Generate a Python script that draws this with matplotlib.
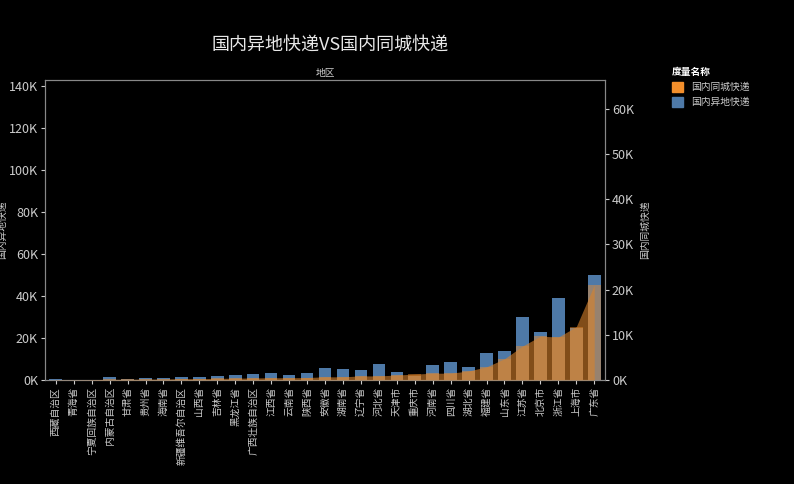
import matplotlib.pyplot as plt
import numpy as np
from matplotlib.ticker import FuncFormatter
from matplotlib.patches import Patch

plt.rcParams['font.family'] = ['Noto Sans CJK SC', 'DejaVu Sans']

regions = ["西藏自治区","青海省","宁夏回族自治区","内蒙古自治区","甘肃省","贵州省","海南省",
           "新疆维吾尔自治区","山西省","吉林省","黑龙江省","广西壮族自治区","江西省","云南省",
           "陕西省","安徽省","湖南省","辽宁省","河北省","天津市","重庆市","河南省","四川省",
           "湖北省","福建省","山东省","江苏省","北京市","浙江省","上海市","广东省"]
# 国内异地快递 (left axis)
yidi = [0.3,0.2,0.2,1.5,0.7,1.0,1.0,1.5,1.5,2.0,2.4,2.9,3.3,2.4,3.3,5.7,5.3,5.0,7.7,4.0,
        2.0,7.0,8.6,6.0,13.0,14.0,30.0,23.0,39.0,25.0,50.0]
# 国内同城快递 (right axis)
tongcheng = [0.05,0.05,0.08,0.15,0.15,0.2,0.2,0.3,0.3,0.35,0.4,0.45,0.5,0.5,0.55,0.7,0.7,
             0.9,0.9,1.1,1.3,1.5,1.5,2.0,2.9,4.7,7.5,9.7,9.5,11.8,21.0]

blue = "#4e79a7"
orange = "#f28e2b"
fg = "#cccccc"

fig = plt.figure(figsize=(7.94, 4.84), dpi=100, facecolor="black")
ax = fig.add_axes([45/794, 1-380/484, 560/794, 300/484], facecolor="black")
ax2 = ax.twinx()
x = np.arange(len(regions))

ax.bar(x, yidi, width=0.7, color=blue, zorder=1)
ax2.bar(x, tongcheng, width=0.7, color=orange, alpha=0.45, zorder=2)
ax2.fill_between(x, tongcheng, color="#d9822b", alpha=0.6, lw=0, zorder=3)

ax.set_xlim(-0.6, len(regions) - 0.4)
ax.set_ylim(0, 143)
ax2.set_ylim(0, 66.4)
ax.set_yticks(np.arange(0, 141, 20))
ax2.set_yticks(np.arange(0, 61, 10))
kfmt = FuncFormatter(lambda v, p: f"{int(v)}K")
ax.yaxis.set_major_formatter(kfmt)
ax2.yaxis.set_major_formatter(kfmt)

ax.set_xticks(x)
ax.set_xticklabels(regions, rotation=90, fontsize=7, color=fg)
for a in (ax, ax2):
    a.tick_params(colors=fg, labelsize=9, length=3, pad=2)
    for s in a.spines.values():
        s.set_color("#888888")
ax.tick_params(axis="x", labelsize=7)

ax.set_ylabel("国内异地快递", color=fg, fontsize=7, labelpad=1)
ax2.set_ylabel("国内同城快递", color=fg, fontsize=7, labelpad=4)
ax.set_title("地区", color=fg, fontsize=7, pad=3)
fig.text(330/794, 1-45/484, "国内异地快递VS国内同城快递", color="#e8e8e8", fontsize=13,
         ha="center", va="center")

handles = [Patch(color=orange, label="国内同城快递"), Patch(color=blue, label="国内异地快递")]
leg = fig.legend(handles=handles, loc="upper left", bbox_to_anchor=(663/794, 1-58/484),
                 frameon=False, fontsize=7, title="度量名称", handlelength=1.2,
                 handleheight=1.2, labelcolor=fg)
leg.get_title().set_color("white")
leg.get_title().set_fontsize(7)
leg.get_title().set_fontweight("bold")
leg._legend_box.align = "left"

fig.savefig("out.png", dpi=100, facecolor="black")
